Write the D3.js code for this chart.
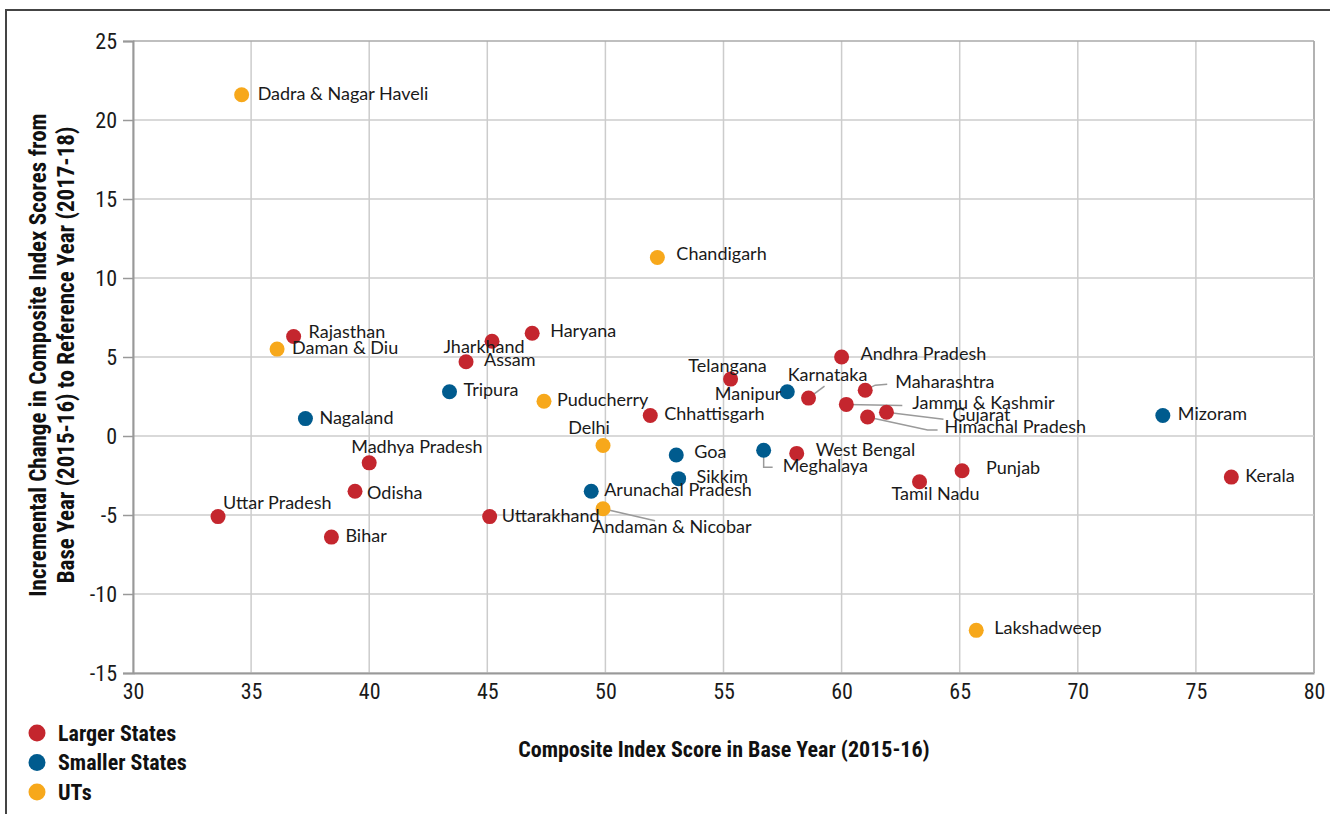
<!DOCTYPE html>
<html lang="en">
<head>
<meta charset="utf-8">
<title>Composite Index: Base Year vs Incremental Change</title>
<script src="https://d3js.org/d3.v7.min.js"></script>
<style>
  body { margin: 0; background: #fff; }
  .cond { font-family: "Liberation Sans Narrow", "Roboto Condensed", "Arial Narrow", Roboto, sans-serif; }
  .lbl { font-family: Lato, "Noto Sans", sans-serif; font-size: 18px; fill: #1a1a1a; }
</style>
</head>
<body>
<script>
const width = 1330, height = 814;
const margin = {left: 133, right: 16, top: 41, bottom: 141};

// data
const regions = ["Dadra & Nagar Haveli","Rajasthan","Daman & Diu","Nagaland","Madhya Pradesh","Odisha",
  "Uttar Pradesh","Bihar","Jharkhand","Haryana","Assam","Tripura","Puducherry","Delhi","Arunachal Pradesh",
  "Andaman & Nicobar","Uttarakhand","Chandigarh","Chhattisgarh","Telangana","Manipur","Andhra Pradesh",
  "Karnataka","Maharashtra","Jammu & Kashmir","Gujarat","Himachal Pradesh","Goa","Sikkim","Meghalaya",
  "West Bengal","Tamil Nadu","Punjab","Mizoram","Kerala","Lakshadweep"];
const groups = ["UT","L","UT","S","L","L","L","L","L","L","L","S","UT","UT","S",
  "UT","L","UT","L","L","S","L","L","L","L","L","L","S","S","S",
  "L","L","L","S","L","UT"];
const baseScore = [34.6,36.8,36.1,37.3,40.0,39.4,33.6,38.4,45.2,46.9,44.1,43.4,47.4,49.9,49.4,
  49.9,45.1,52.2,51.9,55.3,57.7,60.0,58.6,61.0,60.2,61.9,61.1,53.0,53.1,56.7,
  58.1,63.3,65.1,73.6,76.5,65.7];
const incChange = [21.6,6.3,5.5,1.1,-1.7,-3.5,-5.1,-6.4,6.0,6.5,4.7,2.8,2.2,-0.6,-3.5,
  -4.6,-5.1,11.3,1.3,3.6,2.8,5.0,2.4,2.9,2.0,1.5,1.2,-1.2,-2.7,-0.9,
  -1.1,-2.9,-2.2,1.3,-2.6,-12.3];

const legendNames = ["Larger States","Smaller States","UTs"];
const groupKeys = ["L","S","UT"];
const xTicks = [30,35,40,45,50,55,60,65,70,75,80];
const yTicks = [-15,-10,-5,0,5,10,15,20,25];

const color = d3.scaleOrdinal().domain(groupKeys).range(["#c4262e","#005b8e","#f7a81b"]);

// label placement: [dx, dy, anchor, leader points]
const labelPos = {
  "Dadra & Nagar Haveli": [16,0,"start"],
  "Rajasthan": [15,-3,"start"],
  "Daman & Diu": [15,0,"start"],
  "Nagaland": [14,0,"start"],
  "Madhya Pradesh": [-18,-15,"start"],
  "Odisha": [12,3,"start"],
  "Uttar Pradesh": [5,-13,"start"],
  "Bihar": [14,0,"start"],
  "Jharkhand": [-8,7,"middle"],
  "Haryana": [18,-1,"start"],
  "Assam": [18,-1,"start"],
  "Tripura": [14,-1,"start"],
  "Puducherry": [13,0,"start"],
  "Delhi": [-14,-16,"middle"],
  "Arunachal Pradesh": [13,0,"start"],
  "Andaman & Nicobar": [69,19,"middle",[[0,0],[52,12]]],
  "Uttarakhand": [12,0,"start"],
  "Chandigarh": [19,-2,"start"],
  "Chhattisgarh": [14,0,"start"],
  "Telangana": [-3,-12,"middle"],
  "Manipur": [-6,3,"end"],
  "Andhra Pradesh": [19,-2,"start"],
  "Karnataka": [19,-22,"middle",[[0,0],[16,-12]]],
  "Maharashtra": [30,-7,"start",[[0,0],[10,-5],[22,-6]]],
  "Jammu & Kashmir": [66,0,"start",[[0,0],[56,1]]],
  "Gujarat": [66,4,"start",[[0,0],[57,7]]],
  "Himachal Pradesh": [77,11,"start",[[0,0],[60,13],[70,13]]],
  "Goa": [18,-2,"start"],
  "Sikkim": [18,-1,"start"],
  "Meghalaya": [19,17,"start",[[0,0],[0,17],[9,17]]],
  "West Bengal": [19,-2,"start"],
  "Tamil Nadu": [16,13,"middle"],
  "Punjab": [24,-2,"start"],
  "Mizoram": [15,0,"start"],
  "Kerala": [14,0,"start"],
  "Lakshadweep": [18,-1,"start"]
};

const dataset = regions.map((r, i) => ({name: r, group: groups[i], x: baseScore[i], y: incChange[i]}));

const xScale = d3.scaleLinear().domain([30, 80]).range([margin.left, width - margin.right]);
const yScale = d3.scaleLinear().domain([-15, 25]).range([height - margin.bottom, margin.top]);

const svg = d3.select("body").append("svg")
  .attr("width", width)
  .attr("height", height);

// outer frame
svg.append("rect")
  .attr("x", 6).attr("y", 10)
  .attr("width", width).attr("height", height)
  .attr("fill", "none").attr("stroke", "#444").attr("stroke-width", 2);

// grid
svg.append("g").selectAll("line").data(xTicks).join("line")
  .attr("x1", d => xScale(d)).attr("x2", d => xScale(d))
  .attr("y1", yScale(25)).attr("y2", yScale(-15))
  .attr("stroke", d => d === 80 ? "#999" : "#ccc").attr("stroke-width", 1.5);
svg.append("g").selectAll("line").data(yTicks).join("line")
  .attr("x1", xScale(30)).attr("x2", xScale(80))
  .attr("y1", d => yScale(d)).attr("y2", d => yScale(d))
  .attr("stroke", d => d === 25 ? "#aaa" : "#ccc").attr("stroke-width", 1.5);

// axes
const bottomAxis = d3.axisBottom(xScale).tickValues(xTicks).tickSize(0).tickPadding(10)
  .tickFormat(d => String(d));
const leftAxis = d3.axisLeft(yScale).tickValues(yTicks).tickSize(10).tickPadding(6)
  .tickFormat(d => String(d));

const gx = svg.append("g")
  .attr("transform", "translate(0," + yScale(-15) + ")")
  .call(bottomAxis);
const gy = svg.append("g")
  .attr("transform", "translate(" + xScale(30) + ",0)")
  .call(leftAxis);
[gx, gy].forEach(g => {
  g.select(".domain").attr("stroke", "#999").attr("stroke-width", 2);
  g.selectAll(".tick line").attr("stroke", "#999").attr("stroke-width", 1.5);
  g.selectAll(".tick text").attr("class", "cond").attr("font-size", 22).attr("fill", "#1a1a1a");
});

// axis titles
svg.append("text")
  .attr("class", "cond")
  .attr("x", 724).attr("y", 757)
  .attr("text-anchor", "middle")
  .attr("font-size", 22).attr("font-weight", "bold").attr("fill", "#111")
  .text("Composite Index Score in Base Year (2015-16)");

const yTitle = svg.append("text")
  .attr("class", "cond")
  .attr("transform", "translate(46,355) rotate(-90)")
  .attr("text-anchor", "middle")
  .attr("font-size", 23).attr("font-weight", "bold").attr("fill", "#111");
yTitle.append("tspan").attr("x", 0).attr("y", 0).text("Incremental Change in Composite Index Scores from");
yTitle.append("tspan").attr("x", 0).attr("y", 28).text("Base Year (2015-16) to Reference Year (2017-18)");

// leader lines
const leaders = dataset.filter(d => labelPos[d.name][3]);
svg.append("g").selectAll("path").data(leaders).join("path")
  .attr("d", d => d3.line()(labelPos[d.name][3].map(p => [xScale(d.x) + p[0], yScale(d.y) + p[1]])))
  .attr("fill", "none").attr("stroke", "#9a9a9a").attr("stroke-width", 1.5);

// dots
svg.append("g").selectAll("circle").data(dataset).join("circle")
  .attr("cx", d => xScale(d.x))
  .attr("cy", d => yScale(d.y))
  .attr("r", 7.5)
  .attr("fill", d => color(d.group));

// labels
svg.append("g").selectAll("text").data(dataset).join("text")
  .attr("class", "lbl")
  .attr("x", d => xScale(d.x) + labelPos[d.name][0])
  .attr("y", d => yScale(d.y) + labelPos[d.name][1] - 2)
  .attr("dominant-baseline", "central")
  .attr("text-anchor", d => labelPos[d.name][2])
  .text(d => d.name);

// legend
const legend = svg.append("g").selectAll("g").data(groupKeys).join("g")
  .attr("transform", (d, i) => "translate(37," + (733 + i * 29.5) + ")");
legend.append("circle").attr("r", 8.5).attr("fill", d => color(d));
legend.append("text")
  .attr("class", "cond")
  .attr("x", 21).attr("dominant-baseline", "central")
  .attr("font-size", 22).attr("font-weight", "bold").attr("fill", "#111")
  .text((d, i) => legendNames[i]);
</script>
</body>
</html>
